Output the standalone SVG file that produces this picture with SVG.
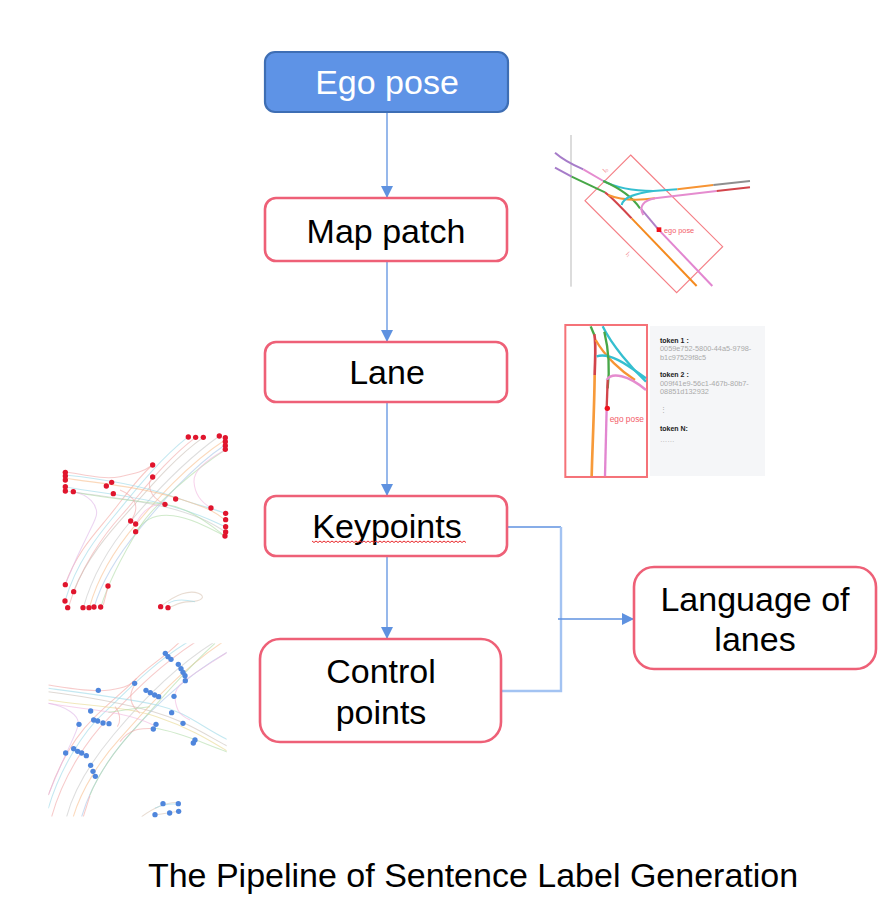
<svg xmlns="http://www.w3.org/2000/svg" xmlns:xlink="http://www.w3.org/1999/xlink" width="886" height="919" viewBox="0 0 886 919">
<style>
text{font-family:"Liberation Sans",Arial,sans-serif}
.n{fill:#fff;stroke:#ee6077;stroke-width:2.6}
.t{font-size:34px;fill:#000;text-anchor:middle}
.c{fill:none;stroke:#5f92e0;stroke-width:1.3}
.cl{fill:none;stroke:#a3c3f2;stroke-width:2.4}
.f{fill:none;stroke-width:3.2;opacity:.6}
.kd{fill:#e0152d}
.bd{fill:#4f86dc}
.tk{font-size:21px;fill:#222;font-weight:bold}
.tg{font-size:22px;fill:#aaa}
.m{fill:none;stroke-width:6}
</style>
<defs>
<marker id="a" markerUnits="userSpaceOnUse" markerWidth="13" markerHeight="13" refX="12" refY="6" orient="auto"><path d="M0 0L12 6L0 12Z" fill="#5f92e0"/></marker>
<clipPath id="bc"><rect x="25" y="25" width="535" height="520"/></clipPath>
</defs>

<g id="connectors">
<path class="c" d="M387 112V198" marker-end="url(#a)"/>
<path class="c" d="M387 261V342" marker-end="url(#a)"/>
<path class="c" d="M387 402V496" marker-end="url(#a)"/>
<path class="c" d="M387 556V639" marker-end="url(#a)"/>
<path class="c" d="M507 527H561"/>
<path class="cl" d="M561 527V691H502"/>
<path class="c" d="M558 619H634" marker-end="url(#a)"/>
</g>

<g id="ego-pose"><rect x="265" y="52" width="243" height="60" rx="10" fill="#5e93e6" stroke="#3e6eb4" stroke-width="2.2"/><text class="t" x="387" y="94" style="fill:#fff">Ego pose</text></g>
<g id="map-patch"><rect class="n" x="265" y="198" width="242" height="63" rx="11"/><text class="t" x="386" y="243">Map patch</text></g>
<g id="lane"><rect class="n" x="265" y="342" width="242" height="60" rx="11"/><text class="t" x="387" y="384">Lane</text></g>
<g id="keypoints"><rect class="n" x="265" y="496" width="242" height="60" rx="11"/><text class="t" x="387" y="538">Keypoints</text>
<path fill="none" stroke="#e8262a" stroke-width="1" d="M312 541l2 1.5l2-1.5l2 1.5l2-1.5l2 1.5l2-1.5l2 1.5l2-1.5l2 1.5l2-1.5l2 1.5l2-1.5l2 1.5l2-1.5l2 1.5l2-1.5l2 1.5l2-1.5l2 1.5l2-1.5l2 1.5l2-1.5l2 1.5l2-1.5l2 1.5l2-1.5l2 1.5l2-1.5l2 1.5l2-1.5l2 1.5l2-1.5l2 1.5l2-1.5l2 1.5l2-1.5l2 1.5l2-1.5l2 1.5l2-1.5l2 1.5l2-1.5l2 1.5l2-1.5l2 1.5l2-1.5l2 1.5l2-1.5l2 1.5l2-1.5l2 1.5l2-1.5l2 1.5l2-1.5l2 1.5l2-1.5l2 1.5l2-1.5l2 1.5l2-1.5l2 1.5l2-1.5l2 1.5l2-1.5l2 1.5l2-1.5l2 1.5l2-1.5l2 1.5l2-1.5l2 1.5l2-1.5l2 1.5l2-1.5l2 1.5l2-1.5l2 1.5"/></g>
<g id="control-points"><rect class="n" x="260" y="639" width="241" height="103" rx="20"/><text class="t" x="381" y="683">Control</text><text class="t" x="381" y="724">points</text></g>
<g id="language-of-lanes"><rect class="n" x="634" y="567" width="242" height="102" rx="20"/><text class="t" x="755" y="611">Language of</text><text class="t" x="755" y="651">lanes</text></g>

<g id="map-image" transform="translate(540 130) scale(.3333)">
<path d="M93 15V470" stroke="#dcdcdc" stroke-width="6" fill="none"/>
<path d="M272 75L548 350L410 488L135 212Z" fill="none" stroke="#f57f86" stroke-width="3.5"/>
<path class="m" stroke="#a67cc9" d="M45 68C70 90 100 105 130 118"/>
<path class="m" stroke="#e58ccf" d="M130 118L190 153"/>
<path class="m" stroke="#35bfd0" stroke-width="7" d="M190 153C230 175 280 183 340 183L412 178"/>
<path class="m" stroke="#f79433" d="M412 178L520 165"/>
<path class="m" stroke="#8f8f8f" d="M520 165L630 153"/>
<path class="m" stroke="#a67cc9" d="M45 113L95 140"/>
<path class="m" stroke="#47a747" d="M95 140L195 187"/>
<path class="m" stroke="#d2444a" d="M195 187C220 205 250 240 275 265"/>
<path class="m" stroke="#f58a1e" d="M275 265L470 468"/>
<path class="m" stroke="#47a747" d="M190 153C240 175 280 205 300 235"/>
<path class="m" stroke="#b080c8" d="M302 235L355 298"/>
<path class="m" stroke="#e286d0" d="M355 298L517 468"/>
<path class="m" stroke="#f79433" d="M205 195C240 210 290 212 345 205"/>
<path class="m" stroke="#e58ccf" d="M345 205L530 183"/>
<path class="m" stroke="#d2444a" d="M530 183L630 172"/>
<path class="m" stroke="#35bfd0" d="M245 225C250 200 290 190 340 183"/>
<path class="m" stroke="#e58ccf" d="M310 255C295 230 310 212 345 205"/>
<rect x="350" y="292" width="14" height="14" fill="#f0101c"/>
<text x="372" y="309" font-size="22" fill="#f3606a">ego pose</text>
<text x="197" y="126" font-size="20" fill="#f3808a" text-anchor="middle" transform="rotate(-45 197 120)">l₀</text>
<text x="265" y="379" font-size="20" fill="#f3808a" text-anchor="middle" transform="rotate(45 265 373)">l₁</text>
</g>

<g id="lane-image" transform="translate(555 315) scale(.3333)">
<rect x="285" y="33" width="345" height="450" fill="#f5f6f8"/>
<rect x="31" y="30" width="245" height="456" fill="#fff" stroke="#f57278" stroke-width="6"/>
<g fill="none" stroke-width="7">
<path stroke="#47a747" d="M107 34L118 60"/>
<path stroke="#d2444a" stroke-width="8" d="M118 58C124 90 120 130 119 180"/>
<path stroke="#f79a3a" stroke-width="8" d="M119 180C118 280 112 400 110 484"/>
<path stroke="#f79433" d="M122 75C150 125 200 170 240 195"/>
<path stroke="#35bfd0" d="M143 34C170 90 230 160 273 200"/>
<path stroke="#35bfd0" d="M125 124C170 110 230 160 273 190"/>
<path stroke="#47a747" d="M148 50C160 100 165 160 158 220"/>
<path stroke="#e58ccf" d="M155 195C170 170 220 180 273 225"/>
<path stroke="#d2444a" d="M158 195L155 280"/>
<path stroke="#e286d0" d="M155 280L150 484"/>
</g>
<circle cx="157" cy="280" r="8" fill="#f0101c"/>
<text x="164" y="321" font-size="25" fill="#f3606a">ego pose</text>
<text class="tk" x="315" y="83">token 1 :</text>
<text class="tg" x="315" y="109">0059e752-5800-44a5-9798-</text>
<text class="tg" x="315" y="135">b1c97529f8c5</text>
<text class="tk" x="315" y="187">token 2 :</text>
<text class="tg" x="315" y="212">009f41e9-56c1-467b-80b7-</text>
<text class="tg" x="315" y="238">08851d132932</text>
<text class="tg" x="315" y="290">⋮</text>
<text class="tk" x="315" y="349">token N:</text>
<text class="tg" x="315" y="381">……</text>
</g>

<g id="keypoints-image" transform="translate(40 425) scale(.3333)">
<path class="f" stroke="#f4a6a0" d="M75 480C110 380 170 320 210 270S300 150 338 120"/>
<path class="f" stroke="#9cd8e8" d="M75 528C110 410 175 330 225 270S350 110 445 35"/>
<path class="f" stroke="#f2a8a8" d="M85 548C120 430 190 330 245 270S370 110 467 37"/>
<path class="f" stroke="#c9c0b8" d="M100 500C140 400 210 320 260 265S400 100 490 37"/>
<path class="f" stroke="#c8c8c8" d="M130 548C160 440 220 350 275 285S430 110 538 33"/>
<path class="f" stroke="#f8c090" d="M148 548C175 450 235 360 290 295S440 120 555 45"/>
<path class="f" stroke="#a8c4e8" d="M162 548C190 450 250 370 300 310S450 130 555 60"/>
<path class="f" stroke="#b0dca8" d="M182 548C205 470 260 370 300 305S470 130 555 75"/>
<path class="f" stroke="#f4a6a0" d="M190 540L205 482"/>
<path class="f" stroke="#f2a8a8" d="M75 140C130 148 190 165 240 155S310 140 338 120"/>
<path class="f" stroke="#9cd8e8" d="M75 150C170 160 300 180 400 215S520 250 555 265"/>
<path class="f" stroke="#f8c090" d="M75 160C190 175 320 190 420 222S530 265 555 285"/>
<path class="f" stroke="#9cd8e8" d="M75 185C180 205 300 215 400 245S520 290 555 305"/>
<path class="f" stroke="#c8c8c8" d="M75 197C190 215 310 225 410 255S530 305 555 320"/>
<path class="f" stroke="#b0dca8" d="M100 200C190 220 300 228 375 238S510 300 555 333"/>
<path class="f" stroke="#e0b8e8" d="M100 200C150 210 170 240 170 265S140 320 75 480"/>
<path class="f" stroke="#f2b8e0" d="M555 75C490 110 460 140 462 170S480 230 513 248"/>
<path class="f" stroke="#f2a8a8" d="M338 155C320 175 325 215 375 238"/>
<path class="f" stroke="#b0dca8" d="M288 320C310 285 345 265 400 272S510 310 555 333"/>
<path class="f" stroke="#f2a8a8" d="M272 288C300 250 290 215 240 195"/>
<path class="f" stroke="#f2b8e0" d="M287 298C310 250 340 235 375 238"/>
<path class="f" stroke="#d8c4b4" d="M362 545C410 505 450 495 475 505S485 530 450 530S400 545 385 548"/>
<path class="f" stroke="#9cd8e8" d="M385 535C410 520 440 525 465 530"/>
<g class="kd">
<circle cx="445" cy="36" r="8"/><circle cx="467" cy="37" r="8"/><circle cx="490" cy="37" r="8"/><circle cx="538" cy="33" r="8"/><circle cx="556" cy="38" r="8"/><circle cx="556" cy="50" r="8"/><circle cx="556" cy="62" r="8"/><circle cx="556" cy="73" r="8"/>
<circle cx="338" cy="120" r="8"/><circle cx="338" cy="156" r="8"/><circle cx="76" cy="142" r="8"/><circle cx="76" cy="153" r="8"/><circle cx="76" cy="165" r="8"/><circle cx="76" cy="185" r="8"/><circle cx="76" cy="198" r="8"/><circle cx="100" cy="200" r="8"/>
<circle cx="215" cy="172" r="8"/><circle cx="199" cy="183" r="8"/><circle cx="220" cy="206" r="8"/><circle cx="407" cy="222" r="8"/><circle cx="375" cy="238" r="8"/><circle cx="513" cy="249" r="8"/><circle cx="557" cy="265" r="8"/><circle cx="557" cy="284" r="8"/><circle cx="557" cy="305" r="8"/><circle cx="557" cy="321" r="8"/><circle cx="555" cy="333" r="8"/>
<circle cx="272" cy="288" r="8"/><circle cx="287" cy="297" r="8"/><circle cx="287" cy="320" r="8"/>
<circle cx="76" cy="479" r="8"/><circle cx="101" cy="500" r="8"/><circle cx="75" cy="528" r="8"/><circle cx="83" cy="548" r="8"/><circle cx="129" cy="548" r="8"/><circle cx="147" cy="548" r="8"/><circle cx="162" cy="546" r="8"/><circle cx="182" cy="546" r="8"/><circle cx="204" cy="483" r="8"/><circle cx="362" cy="545" r="8"/><circle cx="384" cy="548" r="8"/>
</g>
</g>

<g id="control-points-image" transform="translate(40 635) scale(.3333)">
<g clip-path="url(#bc)">
<path class="f" stroke="#f4a6a0" d="M25 480C60 380 110 300 160 250S250 170 290 130S370 70 420 20"/>
<path class="f" stroke="#9cd8e8" d="M25 520C60 400 130 290 190 235S330 90 445 20"/>
<path class="f" stroke="#f2a8a8" d="M35 545C70 420 145 310 205 250S345 100 468 20"/>
<path class="f" stroke="#c8c8c8" d="M80 545C105 450 170 360 220 300S380 110 525 20"/>
<path class="f" stroke="#f8c090" d="M100 545C125 460 185 370 240 310S400 120 550 20"/>
<path class="f" stroke="#a8c4e8" d="M125 545C150 460 200 380 250 320S420 130 565 50"/>
<path class="f" stroke="#b0dca8" d="M150 480C175 420 220 350 285 280S420 120 525 25"/>
<path class="f" stroke="#f4a6a0" d="M130 545L150 482"/>
<path class="f" stroke="#f2a8a8" d="M25 150C90 160 160 172 210 165S270 150 290 130"/>
<path class="f" stroke="#9cd8e8" d="M25 160C140 175 260 190 350 210S490 280 565 315"/>
<path class="f" stroke="#c9c0b8" d="M25 170C140 185 250 205 340 230S490 295 565 335"/>
<path class="f" stroke="#e8d890" d="M25 195C130 212 260 215 350 245S500 310 565 350"/>
<path class="f" stroke="#f2b8e0" d="M25 205C130 225 250 225 340 270"/>
<path class="f" stroke="#e0b8e8" d="M25 205C80 215 115 240 115 265S85 330 25 480"/>
<path class="f" stroke="#f2b8e0" d="M565 50C440 130 400 150 405 190S420 240 450 255"/>
<path class="f" stroke="#f2a8a8" d="M240 320C270 280 300 280 345 280"/>
<path class="f" stroke="#b0dca8" d="M345 280C420 290 500 330 565 352"/>
<path class="f" stroke="#f2a8a8" d="M284 150C265 180 270 210 300 235"/>
<path class="f" stroke="#f2a8a8" d="M225 215C245 240 240 265 232 275"/>
<path class="f" stroke="#b0dca8" d="M205 232C250 225 290 220 330 215"/>
<path class="f" stroke="#d8c4b4" d="M305 545C340 520 380 500 415 503"/>
<path class="f" stroke="#9cd8e8" d="M345 520C370 508 395 506 415 508"/>
<path class="f" stroke="#d8c4b4" d="M345 540L416 529"/>
</g>
<g class="bd">
<circle cx="376" cy="55" r="8"/><circle cx="384" cy="65" r="8"/><circle cx="393" cy="73" r="8"/><circle cx="415" cy="88" r="8"/><circle cx="423" cy="101" r="8"/><circle cx="429" cy="112" r="8"/><circle cx="435" cy="122" r="8"/><circle cx="436" cy="137" r="8"/><circle cx="402" cy="184" r="8"/><circle cx="284" cy="145" r="8"/><circle cx="175" cy="166" r="8"/><circle cx="318" cy="166" r="8"/><circle cx="331" cy="173" r="8"/><circle cx="344" cy="180" r="8"/><circle cx="356" cy="185" r="8"/><circle cx="395" cy="233" r="8"/><circle cx="429" cy="265" r="8"/><circle cx="152" cy="228" r="8"/><circle cx="117" cy="268" r="8"/><circle cx="161" cy="255" r="8"/><circle cx="173" cy="258" r="8"/><circle cx="189" cy="264" r="8"/><circle cx="207" cy="266" r="8"/><circle cx="348" cy="268" r="8"/><circle cx="340" cy="282" r="8"/><circle cx="465" cy="315" r="8"/><circle cx="460" cy="324" r="8"/><circle cx="77" cy="354" r="8"/><circle cx="101" cy="341" r="8"/><circle cx="113" cy="349" r="8"/><circle cx="125" cy="354" r="8"/><circle cx="139" cy="362" r="8"/><circle cx="152" cy="391" r="8"/><circle cx="159" cy="409" r="8"/><circle cx="166" cy="424" r="8"/><circle cx="369" cy="506" r="8"/><circle cx="415" cy="506" r="8"/><circle cx="416" cy="529" r="8"/><circle cx="389" cy="534" r="8"/><circle cx="345" cy="539" r="8"/>
</g>
</g>

<text id="caption" x="473" y="887" font-size="34" fill="#000" text-anchor="middle">The Pipeline of Sentence Label Generation</text>
</svg>
